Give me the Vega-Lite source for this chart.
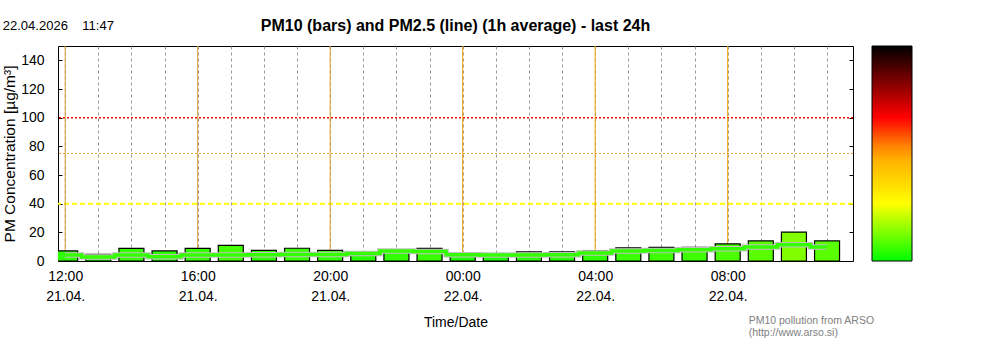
{
  "$schema": "https://vega.github.io/schema/vega-lite/v6.json",
  "width": 795,
  "height": 215,
  "autosize": {"type": "none"},
  "padding": {"left": 58, "top": 46, "right": 147, "bottom": 94},
  "background": "white",
  "config": {
    "font": "Liberation Sans",
    "view": {"stroke": "black", "strokeWidth": 1},
    "axis": {"labelColor": "black", "titleColor": "black", "labelFont": "Liberation Sans", "titleFont": "Liberation Sans"}
  },
  "title": {
    "text": "PM10 (bars) and PM2.5 (line) (1h average) - last 24h",
    "fontSize": 16,
    "fontWeight": "bold",
    "anchor": "middle",
    "offset": -14,
    "color": "black",
    "font": "Liberation Sans"
  },
  "datasets": {
    "pm": [
      {"time": "2026-04-21T12:00:00", "pm10": 7.0, "pm25": 4.2},
      {"time": "2026-04-21T13:00:00", "pm10": 4.7, "pm25": 2.8},
      {"time": "2026-04-21T14:00:00", "pm10": 8.8, "pm25": 4.2},
      {"time": "2026-04-21T15:00:00", "pm10": 7.0, "pm25": 3.0},
      {"time": "2026-04-21T16:00:00", "pm10": 8.8, "pm25": 4.2},
      {"time": "2026-04-21T17:00:00", "pm10": 10.9, "pm25": 4.2},
      {"time": "2026-04-21T18:00:00", "pm10": 7.4, "pm25": 4.4},
      {"time": "2026-04-21T19:00:00", "pm10": 8.9, "pm25": 4.5},
      {"time": "2026-04-21T20:00:00", "pm10": 7.4, "pm25": 4.6},
      {"time": "2026-04-21T21:00:00", "pm10": 6.0, "pm25": 5.2},
      {"time": "2026-04-21T22:00:00", "pm10": 7.7, "pm25": 7.0},
      {"time": "2026-04-21T23:00:00", "pm10": 8.8, "pm25": 6.6},
      {"time": "2026-04-22T00:00:00", "pm10": 5.0, "pm25": 4.4},
      {"time": "2026-04-22T01:00:00", "pm10": 4.5, "pm25": 4.1},
      {"time": "2026-04-22T02:00:00", "pm10": 6.3, "pm25": 4.1},
      {"time": "2026-04-22T03:00:00", "pm10": 6.3, "pm25": 4.3},
      {"time": "2026-04-22T04:00:00", "pm10": 7.0, "pm25": 5.6},
      {"time": "2026-04-22T05:00:00", "pm10": 9.1, "pm25": 7.0},
      {"time": "2026-04-22T06:00:00", "pm10": 9.5, "pm25": 7.4},
      {"time": "2026-04-22T07:00:00", "pm10": 9.5, "pm25": 7.9},
      {"time": "2026-04-22T08:00:00", "pm10": 11.9, "pm25": 8.5},
      {"time": "2026-04-22T09:00:00", "pm10": 14.0, "pm25": 9.8},
      {"time": "2026-04-22T10:00:00", "pm10": 20.2, "pm25": 11.4},
      {"time": "2026-04-22T11:00:00", "pm10": 14.0, "pm25": 9.8}
    ],
    "vlines": [
      {"time": "2026-04-21T12:00:00"},
      {"time": "2026-04-21T16:00:00"},
      {"time": "2026-04-21T20:00:00"},
      {"time": "2026-04-22T00:00:00"},
      {"time": "2026-04-22T04:00:00"},
      {"time": "2026-04-22T08:00:00"}
    ],
    "stamp": [{"label": "22.04.2026\u00a0\u00a0\u00a0\u00a011:47"}],
    "credit": [{"label": ["PM10 pollution from ARSO", "(http://www.arso.si)"]}],
    "one": [{}]
  },
  "resolve": {"axis": {"x": "independent", "y": "independent"}},
  "layer": [
    {
      "data": {"name": "one"},
      "mark": {"type": "rule", "color": "#ff0000", "strokeWidth": 1.5, "strokeDash": [2, 2]},
      "encoding": {"y": {"datum": 100, "type": "quantitative", "axis": null}}
    },
    {
      "data": {"name": "one"},
      "mark": {"type": "rule", "color": "#f5a030", "strokeWidth": 1.2, "strokeDash": [2, 2]},
      "encoding": {"y": {"datum": 75, "type": "quantitative", "axis": null}}
    },
    {
      "data": {"name": "one"},
      "mark": {"type": "rule", "color": "#ffff00", "strokeWidth": 2, "strokeDash": [5, 3]},
      "encoding": {"y": {"datum": 40, "type": "quantitative", "axis": null}}
    },
    {
      "data": {"name": "vlines"},
      "transform": [{"filter": "date(datum.time) == 21"}],
      "mark": {"type": "rule", "color": "#d9a030", "strokeWidth": 1},
      "encoding": {"x": {"field": "time", "type": "temporal", "axis": null}}
    },
    {
      "data": {"name": "vlines"},
      "transform": [{"filter": "date(datum.time) == 22"}],
      "mark": {"type": "rule", "color": "#f0a000", "strokeWidth": 1},
      "encoding": {"x": {"field": "time", "type": "temporal", "axis": null}}
    },
    {
      "data": {"name": "pm"},
      "mark": {"type": "bar", "size": 25, "stroke": "black", "strokeWidth": 1.2, "clip": true},
      "encoding": {
        "x": {
          "field": "time",
          "type": "temporal",
          "scale": {
            "domain": [
              {"year": 2026, "month": 4, "date": 21, "hours": 11, "minutes": 47},
              {"year": 2026, "month": 4, "date": 22, "hours": 11, "minutes": 47}
            ],
            "nice": false,
            "padding": 0
          },
          "axis": {
            "orient": "bottom",
            "title": "Time/Date",
            "titleFontSize": 14,
            "titleFontWeight": "normal",
            "titlePadding": 12,
            "values": [
              {"year": 2026, "month": 4, "date": 21, "hours": 12},
              {"year": 2026, "month": 4, "date": 21, "hours": 13},
              {"year": 2026, "month": 4, "date": 21, "hours": 14},
              {"year": 2026, "month": 4, "date": 21, "hours": 15},
              {"year": 2026, "month": 4, "date": 21, "hours": 16},
              {"year": 2026, "month": 4, "date": 21, "hours": 17},
              {"year": 2026, "month": 4, "date": 21, "hours": 18},
              {"year": 2026, "month": 4, "date": 21, "hours": 19},
              {"year": 2026, "month": 4, "date": 21, "hours": 20},
              {"year": 2026, "month": 4, "date": 21, "hours": 21},
              {"year": 2026, "month": 4, "date": 21, "hours": 22},
              {"year": 2026, "month": 4, "date": 21, "hours": 23},
              {"year": 2026, "month": 4, "date": 22, "hours": 0},
              {"year": 2026, "month": 4, "date": 22, "hours": 1},
              {"year": 2026, "month": 4, "date": 22, "hours": 2},
              {"year": 2026, "month": 4, "date": 22, "hours": 3},
              {"year": 2026, "month": 4, "date": 22, "hours": 4},
              {"year": 2026, "month": 4, "date": 22, "hours": 5},
              {"year": 2026, "month": 4, "date": 22, "hours": 6},
              {"year": 2026, "month": 4, "date": 22, "hours": 7},
              {"year": 2026, "month": 4, "date": 22, "hours": 8},
              {"year": 2026, "month": 4, "date": 22, "hours": 9},
              {"year": 2026, "month": 4, "date": 22, "hours": 10},
              {"year": 2026, "month": 4, "date": 22, "hours": 11}
            ],
            "grid": true,
            "gridColor": "#999999",
            "gridDash": [3, 3],
            "gridWidth": 1,
            "ticks": false,
            "domain": false,
            "labelFontSize": 14,
            "labelPadding": 8,
            "labelLineHeight": 20,
            "labelOverlap": false,
            "labelFlush": false,
            "labelExpr": "hours(datum.value) % 4 == 0 ? [timeFormat(datum.value, '%H:%M'), timeFormat(datum.value, '%d.%m.')] : ''"
          }
        },
        "y": {
          "field": "pm10",
          "type": "quantitative",
          "scale": {"domain": [0, 150], "nice": false, "padding": 0},
          "axis": {
            "orient": "left",
            "title": "PM Concentration [µg/m³]",
            "titleFontSize": 15.5,
            "titleFontWeight": "normal",
            "titlePadding": 3,
            "values": [0, 20, 40, 60, 80, 100, 120, 140],
            "grid": false,
            "domain": false,
            "tickSize": -4,
            "tickColor": "black",
            "labelFontSize": 14,
            "labelPadding": 18
          }
        },
        "color": {
          "field": "pm10",
          "type": "quantitative",
          "scale": {
            "type": "linear",
            "interpolate": "rgb",
            "domain": [0, 40, 75, 100, 150],
            "range": ["#00ff00", "#ffff00", "#ffa500", "#ff0000", "#000000"]
          },
          "legend": {
            "orient": "none",
            "legendX": 814,
            "legendY": 0,
            "direction": "vertical",
            "title": null,
            "gradientLength": 215,
            "gradientThickness": 40,
            "gradientStrokeColor": "black",
            "gradientStrokeWidth": 1,
            "labelExpr": "''",
            "padding": 0,
            "offset": 0
          }
        }
      }
    },
    {
      "data": {"name": "pm"},
      "mark": {"type": "line", "color": "#c0c0c0", "strokeWidth": 5.5, "interpolate": "step"},
      "encoding": {
        "x": {"field": "time", "type": "temporal", "axis": null},
        "y": {
          "field": "pm25",
          "type": "quantitative",
          "axis": {
            "orient": "right",
            "title": null,
            "values": [0, 20, 40, 60, 80, 100, 120, 140],
            "labels": false,
            "grid": false,
            "domain": false,
            "tickSize": -4,
            "tickColor": "black"
          }
        }
      }
    },
    {
      "data": {"name": "pm"},
      "mark": {"type": "line", "color": "#33ff00", "strokeWidth": 3.5, "interpolate": "step"},
      "encoding": {
        "x": {"field": "time", "type": "temporal", "axis": null},
        "y": {"field": "pm25", "type": "quantitative", "axis": null}
      }
    },
    {
      "data": {"name": "stamp"},
      "mark": {"type": "text", "align": "left", "baseline": "middle", "fontSize": 13, "color": "black", "font": "Liberation Sans"},
      "encoding": {
        "x": {"datum": {"year": 2026, "month": 4, "date": 21, "hours": 10, "minutes": 7}, "type": "temporal", "axis": null},
        "y": {"datum": 164, "type": "quantitative", "axis": null},
        "text": {"field": "label"}
      }
    },
    {
      "data": {"name": "credit"},
      "mark": {"type": "text", "align": "left", "baseline": "middle", "fontSize": 10.5, "lineHeight": 12, "color": "#808080", "font": "Liberation Sans"},
      "encoding": {
        "x": {"datum": {"year": 2026, "month": 4, "date": 22, "hours": 8, "minutes": 38}, "type": "temporal", "axis": null},
        "y": {"datum": -42, "type": "quantitative", "axis": null},
        "text": {"field": "label"}
      }
    }
  ]
}
